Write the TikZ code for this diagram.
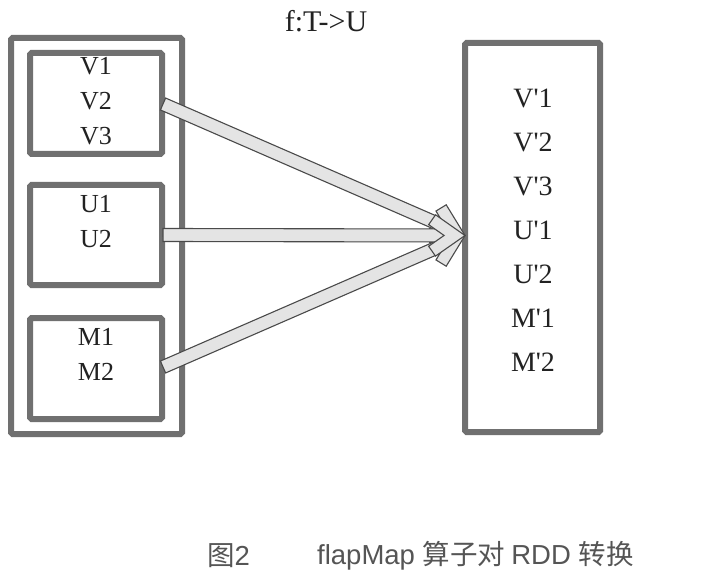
\documentclass[tikz,border=0pt]{standalone}
\usepackage{fontspec}
\setmainfont{Liberation Serif}
\newfontfamily\capfont{Liberation Sans}
\newfontfamily\cjkfont{Noto Sans CJK SC}
\usetikzlibrary{calc}
\definecolor{boxgray}{HTML}{707070}
\definecolor{arrfill}{HTML}{E4E4E4}
\definecolor{arrline}{HTML}{4A4A4A}
\definecolor{txt}{HTML}{222222}
\definecolor{capgray}{HTML}{555555}
\tikzset{
  boxstyle/.style={draw=boxgray, line width=6pt, rectangle, rounded corners=1.5pt, inner sep=0pt, outer sep=0pt},
  lefttxt/.style={font=\fontsize{26}{35}\selectfont, align=center, text=txt, inner sep=0pt},
  righttxt/.style={font=\fontsize{28}{44}\selectfont, align=center, text=txt, inner sep=0pt},
  titletxt/.style={font=\fontsize{30}{32}\selectfont, text=txt, inner sep=0pt},
  captxt/.style={font=\fontsize{27.5}{30}\selectfont, text=capgray, inner sep=0pt},
  arrstyle/.style={draw=arrline, fill=arrfill, line width=1.1pt, line join=miter}
}
\newcommand\q{\textquotesingle}
\newcommand\fatarr[2]{%
  \coordinate (e) at ($(#2)!14pt!(#1)$);
  \coordinate (n) at ($(#2)!20.92pt!(#1)$);
  \filldraw[arrstyle] ($(#1)!6.5pt!90:(e)$) -- ($(e)!6.5pt!-90:(#1)$) -- ($(e)!6.5pt!90:(#1)$) -- ($(#1)!6.5pt!-90:(e)$) -- cycle;
  \filldraw[arrstyle] (#2) -- ($(#2)!36pt!35:(#1)$) -- ($(n)!18.86pt!35:(#1)$) -- (n) -- ($(n)!18.86pt!-35:(#1)$) -- ($(#2)!36pt!-35:(#1)$) -- cycle;
}
\begin{document}
\begin{tikzpicture}[x=1pt,y=-1pt]
\useasboundingbox[fill=white] (0,0) rectangle (703,585);
\node[titletxt] (title) at (326,21) {f:T->U};
\node[boxstyle, minimum width=171pt, minimum height=396pt] (outer) at (96.5,236) {};
\node[boxstyle, minimum width=132pt, minimum height=101pt] (vbox) at (96,103.5) {};
\node[boxstyle, minimum width=132pt, minimum height=100pt] (ubox) at (96,235) {};
\node[boxstyle, minimum width=132pt, minimum height=101pt] (mbox) at (96,368.5) {};
\node[boxstyle, minimum width=135pt, minimum height=389pt] (rbox) at (532.5,237.5) {};
\node[lefttxt] (vtxt) at (96,101) {V1\\V2\\V3};
\node[lefttxt] (utxt) at (96,222) {U1\\U2};
\node[lefttxt] (mtxt) at (96,354.5) {M1\\M2};
\node[righttxt] (rtxt) at (533,230) {V\q1\\V\q2\\V\q3\\U\q1\\U\q2\\M\q1\\M\q2};
\coordinate (s1) at ($(vbox.east)+(1,0.5)$);
\coordinate (s2) at ($(ubox.east)+(1,0)$);
\coordinate (s3) at ($(mbox.east)+(1,-1.5)$);
\coordinate (tip) at ($(rbox.west)+(0,-2)$);
\fatarr{s1}{tip}
\fatarr{s3}{tip}
\fatarr{s2}{tip}
\node[captxt, anchor=west] (fig) at (207,556) {\cjkfont 图\capfont 2};
\node[captxt, anchor=west] (cap) at (317,556) {\capfont flapMap \cjkfont 算子对 \capfont RDD \cjkfont 转换};
\end{tikzpicture}
\end{document}
